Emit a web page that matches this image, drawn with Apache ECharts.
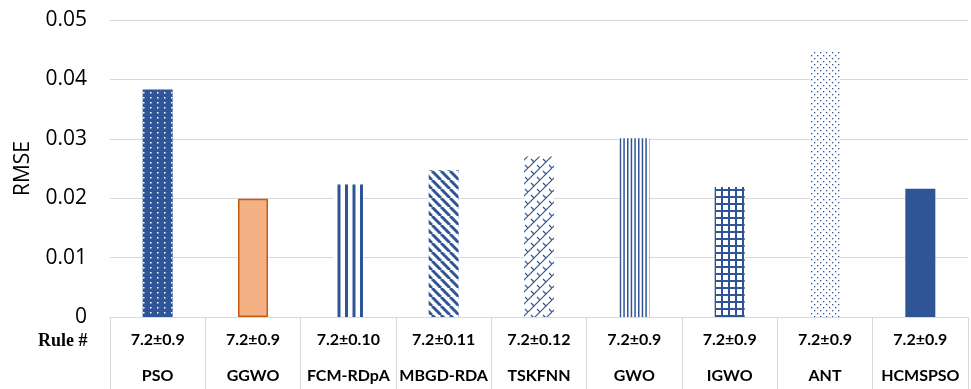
<!DOCTYPE html>
<html><head><meta charset="utf-8">
<script src="https://cdn.jsdelivr.net/npm/echarts@6/dist/echarts.min.js"></script>
<style>html,body{margin:0;padding:0;background:#fff}#c{width:971px;height:389px}</style>
</head><body><div id="c"></div>
<script>
const categories = ['PSO','GGWO','FCM-RDpA','MBGD-RDA','TSKFNN','GWO','IGWO','ANT','HCMSPSO'];
const ruleNums = ['7.2±0.9','7.2±0.9','7.2±0.10','7.2±0.11','7.2±0.12','7.2±0.9','7.2±0.9','7.2±0.9','7.2±0.9'];
const rmse = [0.0383,0.0199,0.0223,0.0247,0.0270,0.0301,0.0219,0.0446,0.0216];
const yTicks = [0,0.01,0.02,0.03,0.04,0.05];

const BLUE = '#2F5597';
function tile(w,h,draw){const c=document.createElement('canvas');c.width=w;c.height=h;const g=c.getContext('2d');draw(g,w,h);return {image:c,repeat:'repeat'};}
const patterns = [
  tile(7,5,(g,w,h)=>{g.fillStyle=BLUE;g.fillRect(0,0,w,h);g.fillStyle='#fff';g.fillRect(3,2,1.5,1.5);}),
  '#F4B183',
  tile(15,4,(g,w,h)=>{g.fillStyle='#fff';g.fillRect(0,0,w,h);g.fillStyle=BLUE;g.fillRect(0,0,3,h);g.fillRect(7.5,0,3,h);}),
  tile(9,9,(g,w,h)=>{g.fillStyle='#fff';g.fillRect(0,0,w,h);g.strokeStyle=BLUE;g.lineWidth=3;for(let k=-1;k<=1;k++){g.beginPath();g.moveTo(k*w,0);g.lineTo(k*w+w,h);g.stroke();}}),
  tile(12,12,(g,w,h)=>{g.fillStyle='#fff';g.fillRect(0,0,w,h);g.strokeStyle=BLUE;g.lineWidth=1.2;for(let k=-1;k<=1;k++){g.beginPath();g.moveTo(k*w,h);g.lineTo(k*w+w,0);g.stroke();}
    g.beginPath();g.moveTo(3,3);g.lineTo(6,6);g.stroke();g.beginPath();g.moveTo(9,9);g.lineTo(12,12);g.stroke();g.beginPath();g.moveTo(-3,-3);g.lineTo(0,0);g.stroke();}),
  tile(11,4,(g,w,h)=>{g.fillStyle='#fff';g.fillRect(0,0,w,h);g.fillStyle=BLUE;g.fillRect(0,0,1.5,h);g.fillRect(3.7,0,1.5,h);g.fillRect(7.3,0,1.5,h);}),
  tile(7,7,(g,w,h)=>{g.fillStyle='#fff';g.fillRect(0,0,w,h);g.fillStyle=BLUE;g.fillRect(0,0,2,h);g.fillRect(0,0,w,2);}),
  tile(6,6,(g,w,h)=>{g.fillStyle='#fff';g.fillRect(0,0,w,h);g.fillStyle=BLUE;g.fillRect(1,1,1.3,1.3);g.fillRect(4,4,1.3,1.3);}),
  BLUE
];

const chart = echarts.init(document.getElementById('c'));
chart.setOption({
  animation:false,
  grid:{left:110,right:3,top:20,bottom:72},
  xAxis:{type:'category',data:categories,
    axisLine:{lineStyle:{color:'#D9D9D9',width:1}},
    axisTick:{show:true,interval:0,length:72,lineStyle:{color:'#D9D9D9',width:1}},
    axisLabel:{interval:0,margin:5,
      formatter:(v,i)=>'{a|'+ruleNums[i]+'}\n{b|'+v+'}',
      rich:{a:{fontFamily:'Lato',fontWeight:'bold',fontSize:16,color:'#000',lineHeight:36},
            b:{fontFamily:'Lato',fontWeight:'bold',fontSize:16,color:'#000',lineHeight:36}}}
  },
  yAxis:{type:'value',min:0,max:0.05,interval:0.01,
    name:'RMSE',nameLocation:'middle',nameGap:76,nameRotate:90,
    nameTextStyle:{fontFamily:'Open Sans',fontSize:21,color:'#000'},
    axisLine:{show:false},axisTick:{show:false},
    axisLabel:{margin:23,fontFamily:'Open Sans',fontSize:21,color:'#000',formatter:v=>String(+v.toFixed(2))},
    splitLine:{lineStyle:{color:'#D9D9D9',width:1}}
  },
  graphic:[{type:'text',left:38,top:332,style:{text:'Rule #',font:'bold 18px "Liberation Serif"',fill:'#000'}}],
  series:[{type:'bar',barWidth:30,
    data:rmse.map((v,i)=>({value:v,itemStyle:{color:patterns[i],
      borderColor:i===1?'#C55A11':'transparent',borderWidth:i===1?1.5:0}}))
  }]
});
</script></body></html>
